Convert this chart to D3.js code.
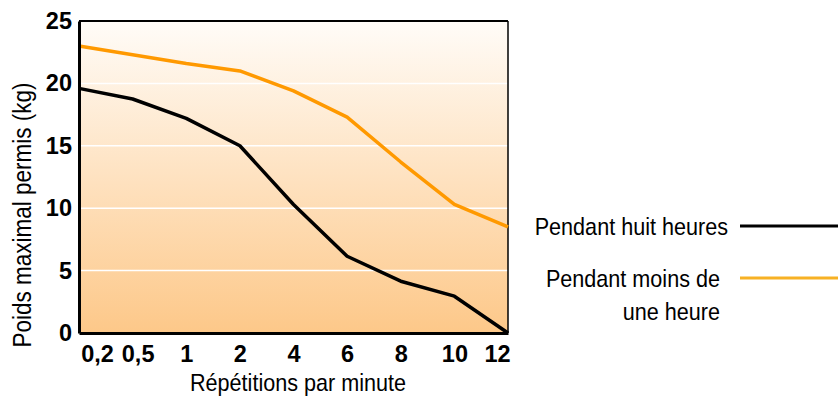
<!DOCTYPE html>
<html>
<head>
<meta charset="utf-8">
<script src="https://cdn.jsdelivr.net/npm/d3@7"></script>
<style>
  body { margin: 0; background: #fff; }
  svg { display: block; }
</style>
</head>
<body>
<svg id="chart" width="838" height="399"></svg>
<script>
// data
var categories = ['0,2', '0,5', '1', '2', '4', '6', '8', '10', '12'];
var huitHeures = [19.6, 18.75, 17.2, 15.0, 10.3, 6.15, 4.15, 2.95, 0];
var moinsUneHeure = [23.0, 22.3, 21.6, 21.0, 19.4, 17.3, 13.7, 10.3, 8.5];
var yTicks = [0, 5, 10, 15, 20, 25];

var svg = d3.select('#chart');
var plotLeft = 79, plotRight = 508, plotTop = 21, plotBottom = 333;
var textFont = 'Liberation Sans, Arial, sans-serif';

var xScale = d3.scalePoint().domain(categories).range([plotLeft, plotRight]);
var yScale = d3.scaleLinear().domain([0, 25]).range([plotBottom, plotTop]);

// background gradient
var defs = svg.append('defs');
var grad = defs.append('linearGradient')
    .attr('id', 'bg')
    .attr('x1', 0).attr('y1', 0).attr('x2', 0).attr('y2', 1);
grad.append('stop').attr('offset', '0%').attr('stop-color', '#fffcf8');
grad.append('stop').attr('offset', '100%').attr('stop-color', '#fdc889');

svg.append('rect')
    .attr('x', plotLeft).attr('y', plotTop)
    .attr('width', plotRight - plotLeft).attr('height', plotBottom - plotTop)
    .attr('fill', 'url(#bg)');

// white grid lines
svg.append('g')
    .selectAll('line')
    .data(yTicks.filter(function (d) { return d > 0 && d < 25; }))
    .enter()
    .append('line')
    .attr('x1', plotLeft).attr('x2', plotRight)
    .attr('y1', function (d) { return yScale(d); })
    .attr('y2', function (d) { return yScale(d); })
    .attr('stroke', '#ffffff')
    .attr('stroke-width', 1.5);

// frame: top and right thin, left and bottom thick
svg.append('line').attr('x1', plotLeft).attr('x2', plotRight).attr('y1', plotTop).attr('y2', plotTop)
    .attr('stroke', '#000').attr('stroke-width', 2);
svg.append('line').attr('x1', plotRight).attr('x2', plotRight).attr('y1', plotTop).attr('y2', plotBottom)
    .attr('stroke', '#000').attr('stroke-width', 1.5);

// lines
var line = d3.line()
    .x(function (d, i) { return xScale(categories[i]); })
    .y(function (d) { return yScale(d); });

svg.append('path')
    .datum(moinsUneHeure)
    .attr('d', line)
    .attr('fill', 'none')
    .attr('stroke', '#ff9900')
    .attr('stroke-width', 3.5)
    .attr('stroke-linejoin', 'round');

svg.append('path')
    .datum(huitHeures)
    .attr('d', line)
    .attr('fill', 'none')
    .attr('stroke', '#000000')
    .attr('stroke-width', 3.5)
    .attr('stroke-linejoin', 'round');

// axes
var yAxis = d3.axisLeft(yScale).tickValues(yTicks).tickSize(0).tickPadding(7);
var yg = svg.append('g').attr('transform', 'translate(' + plotLeft + ',0)').call(yAxis);
yg.select('.domain').attr('stroke', '#000').attr('stroke-width', 3);
yg.selectAll('text')
    .attr('font-family', textFont)
    .attr('font-weight', 'bold')
    .attr('font-size', 23.5)
    .attr('fill', '#000');

var xAxis = d3.axisBottom(xScale).tickSize(0).tickPadding(12);
var xg = svg.append('g').attr('transform', 'translate(0,' + plotBottom + ')').call(xAxis);
xg.select('.domain').attr('stroke', '#000').attr('stroke-width', 3);
// end labels sit inside the frame in the original
var labelShift = {'0,2': 18, '0,5': 5, '12': -11};
xg.selectAll('text')
    .attr('font-family', textFont)
    .attr('font-weight', 'bold')
    .attr('font-size', 23.5)
    .attr('fill', '#000')
    .attr('dx', function (d) { return labelShift[d] || 0; });

// axis titles (the original font is a little narrow)
svg.append('text')
    .attr('transform', 'translate(298,391) scale(0.9,1)')
    .attr('text-anchor', 'middle')
    .attr('font-family', textFont)
    .attr('font-size', 24)
    .text('Répétitions par minute');

svg.append('text')
    .attr('transform', 'translate(31,215) rotate(-90) scale(0.9,1)')
    .attr('text-anchor', 'middle')
    .attr('font-family', textFont)
    .attr('font-size', 25)
    .text('Poids maximal permis (kg)');

// legend
var legend = [
    {lines: ['Pendant huit heures'], color: '#000000', y: 226, tx: 728},
    {lines: ['Pendant moins de', 'une heure'], color: '#f7b124', y: 278, tx: 720}
];
legend.forEach(function (item) {
    svg.append('line')
        .attr('x1', 740).attr('x2', 838)
        .attr('y1', item.y).attr('y2', item.y)
        .attr('stroke', item.color)
        .attr('stroke-width', 3);
    item.lines.forEach(function (t, i) {
        svg.append('text')
            .attr('transform', 'translate(' + item.tx + ',' + (item.y + 9 + i * 33) + ') scale(0.9,1)')
            .attr('text-anchor', 'end')
            .attr('font-family', textFont)
            .attr('font-size', 24)
            .text(t);
    });
});
</script>
</body>
</html>
